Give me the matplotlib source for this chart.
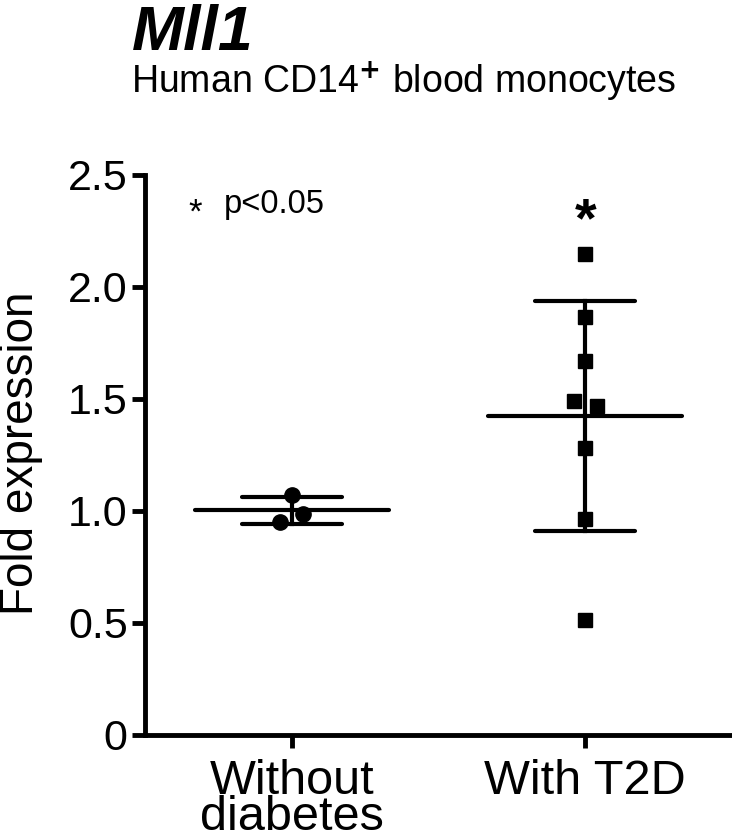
import numpy as np
import matplotlib
matplotlib.use("Agg")
import matplotlib.pyplot as plt

plt.rcParams['font.family'] = ['Liberation Sans', 'DejaVu Sans']
plt.rcParams['mathtext.fontset'] = 'custom'
plt.rcParams['mathtext.rm'] = 'Liberation Sans'

# data
groups = ["Without\ndiabetes", "With T2D"]
ctrl = [1.071, 0.985, 0.952]
t2d = [2.147, 1.867, 1.671, 1.492, 1.469, 1.283, 0.963, 0.513]
# small sideways shifts of overlapping points
ctrl_dx = [0.0, 0.037, -0.04]
t2d_dx = [0.0, 0.0, 0.0, -0.04, 0.04, 0.0, 0.0, 0.0]
yticks = [0, 0.5, 1.0, 1.5, 2.0, 2.5]
ytick_labels = ["0", "0.5", "1.0", "1.5", "2.0", "2.5"]

fig = plt.figure(figsize=(7.32, 8.4), dpi=100)
ax = fig.add_axes([145 / 732, 105 / 840, 587 / 732, 560 / 840])

lw = 3.0
for i, (vals, dx, mk) in enumerate([(ctrl, ctrl_dx, 'o'), (t2d, t2d_dx, 's')]):
    vals = np.array(vals)
    m = vals.mean()
    sd = vals.std(ddof=1)
    # mean line, error bar and caps
    ax.plot([i - 0.33, i + 0.33], [m, m], color='black', lw=lw, solid_capstyle='round', zorder=2)
    ax.plot([i, i], [m - sd, m + sd], color='black', lw=lw, zorder=2)
    for c in (m - sd, m + sd):
        ax.plot([i - 0.17, i + 0.17], [c, c], color='black', lw=lw, solid_capstyle='round', zorder=2)
    ax.plot(i + np.array(dx), vals, linestyle='none', marker=mk, color='black',
            markersize=11 if mk == 'o' else 10.5, zorder=3)

# significance marks
ax.text(1, 2.29, "*", ha='center', va='center', fontsize=40, fontweight='bold')
ax.text(-0.33, 2.33, "*", ha='center', va='center', fontsize=25)
ax.text(-0.23, 2.37, "p<0.05", ha='left', va='center', fontsize=23.5)

ax.set_xlim(-0.5, 1.5)
ax.set_ylim(0, 2.5)
ax.set_xticks([0, 1])
ax.set_xticklabels(groups, fontsize=35)
for t in ax.get_xticklabels():
    t.set_linespacing(0.74)
ax.set_yticks(yticks)
ax.set_yticklabels(ytick_labels, fontsize=31)

for s in ['top', 'right']:
    ax.spines[s].set_visible(False)
for s in ['left', 'bottom']:
    ax.spines[s].set_linewidth(3.5)
ax.tick_params(axis='both', direction='out', length=9.5, width=3.5, pad=3)
ax.tick_params(axis='x', pad=8)

fig.text(21 / 732, 1 - 453 / 840, "Fold expression", rotation=90, ha='center', va='center', fontsize=33)
fig.text(132 / 732, 1 - 50 / 840, "Mll1", fontsize=45, fontweight='bold', fontstyle='italic', va='baseline')
fig.text(131 / 732, 1 - 93 / 840, "Human CD14$^{\\mathbf{+}}$ blood monocytes", fontsize=27, va='baseline')

fig.savefig("out.png", dpi=100)
